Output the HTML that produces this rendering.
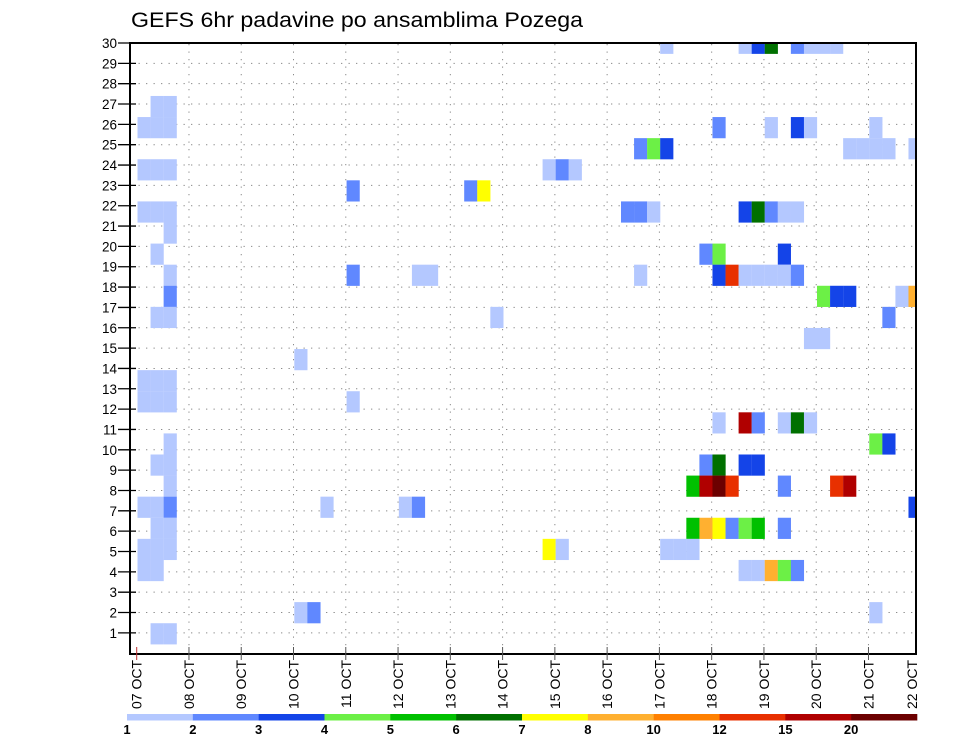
<!DOCTYPE html>
<html><head><meta charset="utf-8">
<style>
html,body{margin:0;padding:0;background:#fff;}
svg{display:block;font-family:"Liberation Sans",sans-serif;}
</style></head>
<body>
<svg id="chart" width="960" height="742" viewBox="0 0 960 742" xmlns="http://www.w3.org/2000/svg">
<text x="131" y="27" font-size="21" textLength="452" lengthAdjust="spacingAndGlyphs" fill="#000">GEFS 6hr padavine po ansamblima Pozega</text>
<defs><clipPath id="plotclip"><rect x="130" y="43" width="786" height="611"/></clipPath></defs>
<g id="grid"></g>
<g id="cells" clip-path="url(#plotclip)"></g>
<rect x="130" y="43" width="786" height="611" fill="none" stroke="#000" stroke-width="2"/>
<g id="yaxis"></g>
<g id="xaxis"></g>
<g id="legend"></g>
</svg>
<script>
// ---- data ----
const dayLabels = ["07 OCT","08 OCT","09 OCT","10 OCT","11 OCT","12 OCT","13 OCT","14 OCT","15 OCT","16 OCT","17 OCT","18 OCT","19 OCT","20 OCT","21 OCT","22 OCT"];
const yTicks = [1,2,3,4,5,6,7,8,9,10,11,12,13,14,15,16,17,18,19,20,21,22,23,24,25,26,27,28,29,30];
const levelValues = [1,2,3,4,5,6,7,8,10,12,15,20];
const levelColors = ["#b4c8ff","#6088ff","#1444e8","#6cf046","#00c000","#007000","#ffff00","#ffb030","#ff8000","#e83000","#b00000","#6c0000"];
// each cell: member row index, 6-hour step index, precipitation value
const cellRow = [29,29,29,29,29,29,29,29, 26,26, 25,25,25,25,25,25,25,25, 24,24,24,24,24,24,24,24, 23,23,23,23,23,23, 22,22,22, 21,21,21,21,21,21,21,21,21,21,21, 20, 19,19,19,19, 18,18,18,18,18,18,18,18,18,18,18,18, 17,17,17,17,17,17, 16,16,16,16, 15,15, 14, 13,13,13, 12,12,12,12, 11,11,11,11,11,11, 10,10,10, 9,9,9,9,9,9, 8,8,8,8,8,8,8,8, 7,7,7,7,7,7,7, 6,6,6,6,6,6,6,6,6, 5,5,5,5,5,5,5,5, 4,4,4,4,4,4,4, 2,2,2, 1,1];
const cellStep = [40,46,47,48,50,51,52,53, 1,2, 0,1,2,44,48,50,51,56, 38,39,40,54,55,56,57,59, 0,1,2,31,32,33, 16,25,26, 0,1,2,37,38,39,46,47,48,49,50, 2, 1,43,44,49, 2,16,21,22,38,44,45,46,47,48,49,50, 2,52,53,54,58,59, 1,2,27,57, 51,52, 12, 0,1,2, 0,1,2,16, 44,46,47,49,50,51, 2,56,57, 1,2,43,44,46,47, 2,42,43,44,45,49,53,54, 0,1,2,14,20,21,59, 1,2,42,43,44,45,46,47,49, 0,1,2,31,32,40,41,42, 0,1,46,47,48,49,50, 12,13,56, 1,2];
const cellValue = [1,1,3,6,2,1,1,1, 1,1, 1,1,1,2,1,3,1,1, 2,4,3,1,1,1,1,1, 1,1,1,1,2,1, 2,2,7, 1,1,1,2,2,1,3,6,2,1,1, 1, 1,2,4,3, 1,2,1,1,1,3,12,1,1,1,1,2, 2,4,3,3,1,8, 1,1,1,2, 1,1, 1, 1,1,1, 1,1,1,1, 1,15,2,1,6,1, 1,4,3, 1,1,2,6,3,3, 1,5,15,20,12,2,12,15, 1,1,2,1,1,2,3, 1,1,5,8,7,2,4,5,2, 1,1,1,7,1,1,1,1, 1,1,1,1,8,4,2, 1,2,1, 1,1];

// ---- scales ----
const NS = "http://www.w3.org/2000/svg";
function xDay(d){ return 136.7 + 52.27*d; }
function yTick(r){ return 43 + (30 - r)*20.34; }
function yCellTop(j){ return 644.3 - 21.09*j; }
const cellH = 21.09, stepW = 52.27/4;
function colorFor(v){ const i = levelValues.indexOf(v); return levelColors[i < 0 ? 0 : i]; }
function mk(tag, attrs, parent){ const e = document.createElementNS(NS, tag); for (const k in attrs) e.setAttribute(k, attrs[k]); parent.appendChild(e); return e; }

const grid = document.getElementById('grid');
const cells = document.getElementById('cells');
const yaxis = document.getElementById('yaxis');
const xaxis = document.getElementById('xaxis');
const legend = document.getElementById('legend');

// grid
yTicks.forEach(r => {
  if (r === 30) return;
  const l = mk('line', {x1:131, x2:915, y1:yTick(r), y2:yTick(r), stroke:'#8a8a8a', 'stroke-width':1, 'stroke-dasharray':'1.3,6.2'}, grid);
  
  
});
dayLabels.forEach((lab, d) => {
  if (d === 0 || xDay(d) > 915) return;
  const l = mk('line', {x1:xDay(d), x2:xDay(d), y1:44, y2:653, stroke:'#8a8a8a', 'stroke-width':1, 'stroke-dasharray':'1.3,6.2'}, grid);
  
  
});

// cells
for (let i = 0; i < cellRow.length; i++) {
  const x = xDay(cellStep[i]/4) + 0.8;
  const y = yCellTop(cellRow[i]);
  const r = mk('rect', {x:x, y:y, width:stepW + 0.1, height:cellH + 0.1, fill:colorFor(cellValue[i])}, cells);
  
  
}

// y axis
yTicks.forEach(r => {
  const y = yTick(r);
  const t = mk('line', {x1:118, x2:136, y1:y, y2:y, stroke:'#000', 'stroke-width':1.3}, yaxis);
  
  
  const tx = mk('text', {x:117, y:y+5, 'font-size':13.5, 'text-anchor':'end', fill:'#000'}, yaxis);
  tx.textContent = String(r);
  
  
});

// x axis
dayLabels.forEach((lab, d) => {
  const x = xDay(d);
  if (x <= 917) {
    const t = mk('line', {x1:x, x2:x, y1:647, y2:660, stroke: d === 0 ? '#c03030' : '#555', 'stroke-width':1}, xaxis);
    
    
  }
  const lx = Math.min(x, 912);
  const tx = mk('text', {x:0, y:0, 'font-size':14, 'text-anchor':'end', fill:'#000', transform:'translate(' + (lx+5) + ',660) rotate(-90)'}, xaxis);
  tx.textContent = lab;
  
  
});

// legend colorbar
const lx0 = 127, lx1 = 917, segW = (lx1 - lx0)/levelColors.length;
levelColors.forEach((c, i) => {
  const r = mk('rect', {x:lx0 + i*segW, y:714, width:segW + 0.3, height:6.5, fill:c}, legend);
  
  
  const t = mk('text', {x:lx0 + i*segW, y:734, 'font-size':13, 'font-weight':'bold', 'text-anchor':'middle', fill:'#000'}, legend);
  t.textContent = String(levelValues[i]);
  
  
});
</script>
</body></html>
